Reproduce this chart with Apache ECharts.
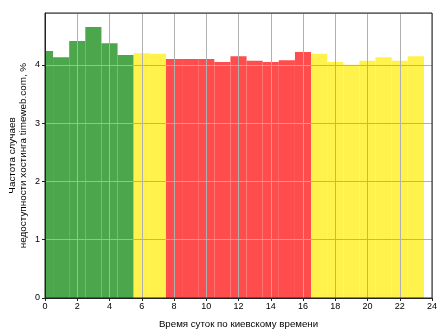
<!DOCTYPE html>
<html><head><meta charset="utf-8">
<script src="https://cdn.jsdelivr.net/npm/echarts@6/dist/echarts.min.js"></script>
<style>html,body{margin:0;padding:0;background:#fff}#c{width:448px;height:336px}</style>
</head><body><div id="c"></div>
<script>
const hours = [0,1,2,3,4,5,6,7,8,9,10,11,12,13,14,15,16,17,18,19,20,21,22,23];
const values = [4.24,4.13,4.41,4.65,4.37,4.17,4.20,4.19,4.10,4.10,4.10,4.05,4.15,4.07,4.05,4.08,4.22,4.19,4.05,4.00,4.07,4.13,4.07,4.15];
const zones = ['g','g','g','g','g','g','y','y','r','r','r','r','r','r','r','r','r','y','y','y','y','y','y','y'];
const xTicks = [0,2,4,6,8,10,12,14,16,18,20,22,24];
const yTicks = [0,1,2,3,4];
const zoneColors = {g:'#4ca64c', y:'#fff24d', r:'#ff4d4d'};
const font = 'Liberation Sans, Arial, sans-serif';

const chart = echarts.init(document.getElementById('c'), null, {renderer:'canvas'});
chart.setOption({
  animation:false,
  grid:{left:45, right:16, top:13, bottom:38, show:true, borderColor:'#222', borderWidth:1, z:4,
    containLabel:false, outerBoundsMode:'none'},
  xAxis:{type:'value', min:0, max:24, interval:2, z:3,
    axisLine:{show:true, onZero:false, lineStyle:{color:'#222'}},
    axisTick:{show:true, length:3, lineStyle:{color:'#222'}},
    axisLabel:{color:'#000', fontFamily:font, fontSize:9, margin:4,
      formatter:v=>xTicks.includes(v)?String(v):''},
    splitLine:{show:true, lineStyle:{color:'#b0b0b0', width:1}},
    name:'Время суток по киевскому времени', nameLocation:'middle', nameGap:21,
    nameTextStyle:{color:'#000', fontFamily:font, fontSize:9.7}
  },
  yAxis:{type:'value', min:0, max:4.89, interval:1, z:3,
    axisLine:{show:true, lineStyle:{color:'#222'}},
    axisTick:{show:true, length:3, lineStyle:{color:'#222'}},
    axisLabel:{color:'#000', fontFamily:font, fontSize:9, margin:5, showMaxLabel:false,
      formatter:v=>yTicks.includes(v)?String(v):''},
    splitLine:{show:true, lineStyle:{color:'#b0b0b0', width:1}},
    name:'Частота случаев\nнедоступности хостинга timeweb.com, %', nameLocation:'middle', nameGap:16,
    nameMoveOverlap:false,
    nameTextStyle:{color:'#000', fontFamily:font, fontSize:9.9, lineHeight:11}
  },
  series:[{
    type:'custom', clip:true, z:1,
    data: hours.map((h,i)=>[h, values[i], i]),
    renderItem:function(params, api){
      const h = api.value(0), v = api.value(1), i = api.value(2);
      const p0 = api.coord([Math.max(h-0.5, 0), v]);
      const p1 = api.coord([Math.min(h+0.5, 24), 0]);
      return {type:'rect', shape:{x:p0[0], y:p0[1], width:p1[0]-p0[0], height:p1[1]-p0[1]},
        style:{fill:zoneColors[zones[i]]}};
    }
  }]
});
</script></body></html>
